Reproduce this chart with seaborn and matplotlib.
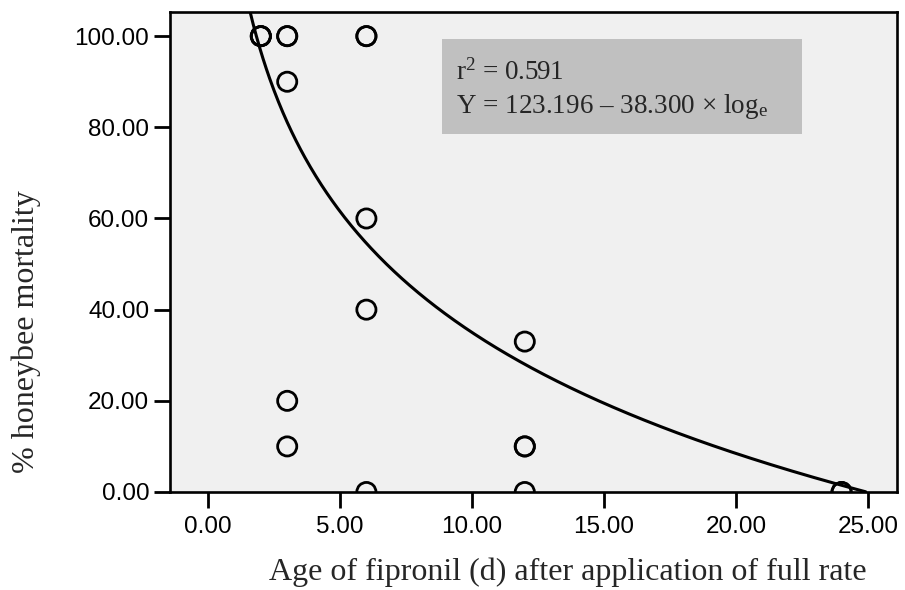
import numpy as np
import pandas as pd
import matplotlib
matplotlib.use("Agg")
import matplotlib.pyplot as plt
import seaborn as sns

# Observed mortality by residue age (days after full-rate application)
age_days = [2, 2, 2, 3, 3, 3, 3, 3, 6, 6, 6, 6, 6, 12, 12, 12, 12, 24, 24]
mortality = [100, 100, 100, 100, 100, 90, 20, 10, 100, 100, 60, 40, 0, 33, 10, 10, 0, 0, 0]

# Logarithmic fit coefficients
intercept = 123.196
slope = -38.300
r_squared = 0.591

x_ticks = [0, 5, 10, 15, 20, 25]
y_ticks = [0, 20, 40, 60, 80, 100]

sns.set_theme(style="white")
plt.rcParams["font.family"] = ["Liberation Sans", "DejaVu Sans"]
plt.rcParams["mathtext.fontset"] = "custom"
plt.rcParams["mathtext.rm"] = "Liberation Serif"
plt.rcParams["mathtext.it"] = "Liberation Serif:italic"

df = pd.DataFrame({"age": age_days, "mortality": mortality})
xfit = np.linspace(1.0, 26.0, 600)
yfit = intercept + slope * np.log(xfit)
fit = pd.DataFrame({"age": xfit, "mortality": yfit})
fit = fit[fit["mortality"] >= 0]

fig = plt.figure(figsize=(9.05, 5.9), dpi=100)
ax = fig.add_axes([170 / 905, 1 - 492 / 590, (897 - 170) / 905, (492 - 12) / 590])
ax.set_facecolor("#f0f0f0")

sns.lineplot(data=fit, x="age", y="mortality", ax=ax, color="black", lw=2.2,
             sort=False, estimator=None)
sns.scatterplot(data=df, x="age", y="mortality", ax=ax, marker="o", s=190,
                facecolor="none", edgecolor="black", linewidth=2.0, zorder=3)
for coll in ax.collections:
    coll.set_clip_on(True)
    coll.set_clip_path(ax.patch)

ax.set_xlim(-1.44, 26.1)
ax.set_ylim(0, 105.3)
ax.set_xticks(x_ticks)
ax.set_yticks(y_ticks)
ax.set_xticklabels([f"{v:.2f}" for v in x_ticks], fontsize=17.5)
ax.set_yticklabels([f"{v:.2f}" for v in y_ticks], fontsize=17.5)
ax.tick_params(axis="both", direction="out", length=11.5, width=2.0, color="black",
               labelcolor="black", bottom=True, left=True)
ax.tick_params(axis="y", pad=3.4)
ax.tick_params(axis="x", pad=6)

for sp in ax.spines.values():
    sp.set_visible(True)
    sp.set_color("black")
    sp.set_linewidth(1.9)

ax.set_xlabel("Age of fipronil (d) after application of full rate",
              fontsize=23, family="Liberation Serif")
ax.xaxis.set_label_coords(0.547, -0.136)
ax.set_ylabel("% honeybee mortality", fontsize=23, family="Liberation Serif")
ax.yaxis.set_label_coords(-0.177, 0.335)

# Regression summary box
box = plt.Rectangle((442 / 905, 1 - 134 / 590), (802 - 442) / 905, (134 - 39) / 590,
                    transform=fig.transFigure, facecolor="#c0c0c0", edgecolor="none",
                    zorder=5)
fig.patches.append(box)
fig.text(456 / 905, 1 - 72 / 590, f"r$^{{2}}$ = {r_squared:.3f}",
         fontsize=19.5, family="Liberation Serif", va="center", ha="left", zorder=6)
fig.text(456 / 905, 1 - 106 / 590,
         f"Y = {intercept:.3f} – {abs(slope):.3f} × log$_{{\\mathrm{{e}}}}$",
         fontsize=19.5, family="Liberation Serif", va="center", ha="left", zorder=6)

fig.savefig("out.png", dpi=100, facecolor="white")
